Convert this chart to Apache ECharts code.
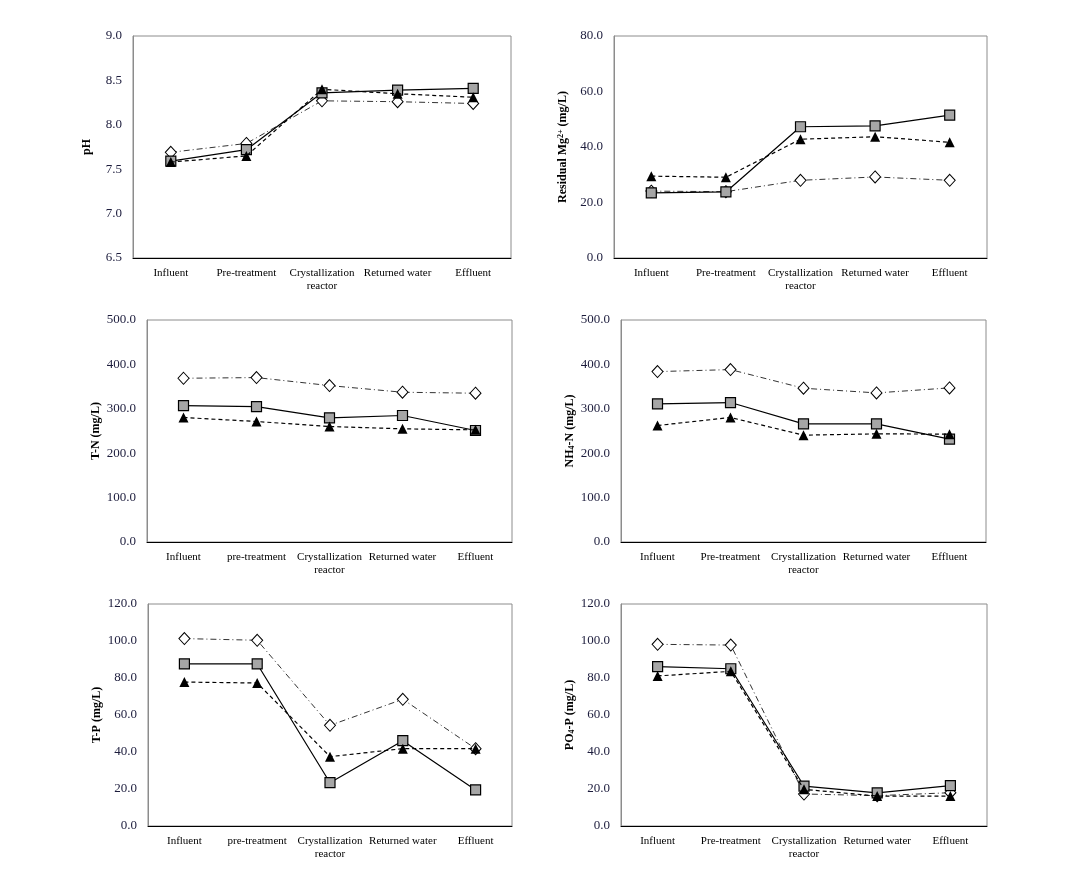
<!DOCTYPE html>
<html>
<head>
<meta charset="utf-8">
<script src="https://cdn.jsdelivr.net/npm/echarts@6/dist/echarts.min.js"></script>
<style>html,body{margin:0;padding:0;background:#fff}#c{width:1075px;height:880px}</style>
</head>
<body>
<div id="c"></div>
<script>
// ---- data ----
var categoriesA = ['Influent', 'Pre-treatment', 'Crystallization\nreactor', 'Returned water', 'Effluent'];
var categoriesB = ['Influent', 'pre-treatment', 'Crystallization\nreactor', 'Returned water', 'Effluent'];

var phDiamond  = [7.69, 7.79, 8.27, 8.26, 8.24];
var phSquare   = [7.59, 7.72, 8.36, 8.39, 8.41];
var phTriangle = [7.58, 7.65, 8.40, 8.35, 8.31];

var mgDiamond  = [24.1, 23.9, 28.0, 29.2, 28.0];
var mgSquare   = [23.5, 23.8, 47.3, 47.6, 51.5];
var mgTriangle = [29.5, 29.1, 42.8, 43.7, 41.7];

var tnDiamond  = [368.8, 370.3, 352.3, 337.3, 335.1];
var tnSquare   = [307.3, 305.1, 279.6, 284.9, 251.1];
var tnTriangle = [280.4, 271.4, 260.1, 254.9, 252.6];

var nhDiamond  = [383.8, 388.3, 346.3, 335.8, 347.1];
var nhSquare   = [311.1, 314.1, 266.1, 266.1, 231.6];
var nhTriangle = [262.4, 280.4, 240.6, 243.6, 242.9];

var tpDiamond  = [101.3, 100.4, 54.4, 68.5, 41.8];
var tpSquare   = [87.6, 87.6, 23.4, 46.1, 19.5];
var tpTriangle = [77.8, 77.3, 37.5, 41.8, 41.8];

var poDiamond  = [98.2, 97.8, 17.3, 16.4, 18.0];
var poSquare   = [86.1, 85.0, 21.6, 17.9, 21.8];
var poTriangle = [81.1, 83.6, 19.8, 16.2, 16.2];

var yTitles = ['pH', 'Residual Mg{sup|2+} (mg/L)', 'T-N (mg/L)', 'NH{sub|4}-N (mg/L)', 'T-P (mg/L)', 'PO{sub|4}-P (mg/L)'];
var yRanges = [[6.5, 9.0, 0.5], [0, 80, 20], [0, 500, 100], [0, 500, 100], [0, 120, 20], [0, 120, 20]];

// ---- layout ----
var grids = [
  {left: 133, top: 36, width: 378, height: 222},
  {left: 614, top: 36, width: 373, height: 222},
  {left: 147, top: 320, width: 365, height: 222},
  {left: 621, top: 320, width: 365, height: 222},
  {left: 148, top: 604, width: 364, height: 222},
  {left: 621, top: 604, width: 366, height: 222}
];
var panelData = [
  [phDiamond, phSquare, phTriangle, categoriesA],
  [mgDiamond, mgSquare, mgTriangle, categoriesA],
  [tnDiamond, tnSquare, tnTriangle, categoriesB],
  [nhDiamond, nhSquare, nhTriangle, categoriesA],
  [tpDiamond, tpSquare, tpTriangle, categoriesB],
  [poDiamond, poSquare, poTriangle, categoriesA]
];
var nameGaps = [40, 45, 45, 45, 45, 45];

var serif = '"Liberation Serif", "Times New Roman", serif';
var option = {
  animation: false,
  backgroundColor: '#fff',
  grid: [], xAxis: [], yAxis: [], series: []
};

grids.forEach(function (g, i) {
  option.grid.push({left: g.left, top: g.top, width: g.width, height: g.height,
    show: true, borderColor: '#8c8c8c', borderWidth: 1, backgroundColor: 'transparent'});
  option.xAxis.push({
    type: 'category', gridIndex: i, data: panelData[i][3], boundaryGap: true,
    axisLine: {lineStyle: {color: '#000', width: 1}},
    axisTick: {show: false},
    axisLabel: {interval: 0, fontFamily: serif, fontSize: 11, color: '#000', lineHeight: 13, margin: 9}
  });
  var r = yRanges[i];
  option.yAxis.push({
    type: 'value', gridIndex: i, min: r[0], max: r[1], interval: r[2],
    name: yTitles[i], nameLocation: 'middle', nameGap: nameGaps[i], nameRotate: 90,
    nameTextStyle: {
      fontFamily: serif, fontSize: 12, fontWeight: 'bold', color: '#000',
      rich: {
        sup: {fontFamily: serif, fontSize: 8, fontWeight: 'bold', verticalAlign: 'top', lineHeight: 8},
        sub: {fontFamily: serif, fontSize: 8, fontWeight: 'bold', verticalAlign: 'bottom', lineHeight: 8}
      }
    },
    splitLine: {show: false},
    axisTick: {show: false},
    axisLine: {show: true, lineStyle: {color: '#8c8c8c'}},
    axisLabel: {fontFamily: serif, fontSize: 13, color: '#1c1c3c', margin: 11,
      formatter: function (v) { return v.toFixed(1); }}
  });
  var d = panelData[i];
  option.series.push({
    type: 'line', name: 'diamond', xAxisIndex: i, yAxisIndex: i, data: d[0],
    symbol: 'diamond', symbolSize: [11, 12],
    lineStyle: {color: '#333', width: 1, type: [6, 3, 1, 3]},
    itemStyle: {color: '#fff', borderColor: '#000', borderWidth: 1}, z: 2
  });
  option.series.push({
    type: 'line', name: 'square', xAxisIndex: i, yAxisIndex: i, data: d[1],
    symbol: 'rect', symbolSize: 10,
    lineStyle: {color: '#000', width: 1.2, type: 'solid'},
    itemStyle: {color: '#a6a6a6', borderColor: '#000', borderWidth: 1.2}, z: 3
  });
  option.series.push({
    type: 'line', name: 'triangle', xAxisIndex: i, yAxisIndex: i, data: d[2],
    symbol: 'triangle', symbolSize: 10,
    lineStyle: {color: '#000', width: 1.2, type: [4, 3]},
    itemStyle: {color: '#000', borderColor: '#000', borderWidth: 0}, z: 4
  });
});

var chart = echarts.init(document.getElementById('c'), null, {renderer: 'canvas'});
chart.setOption(option);
</script>
</body>
</html>
